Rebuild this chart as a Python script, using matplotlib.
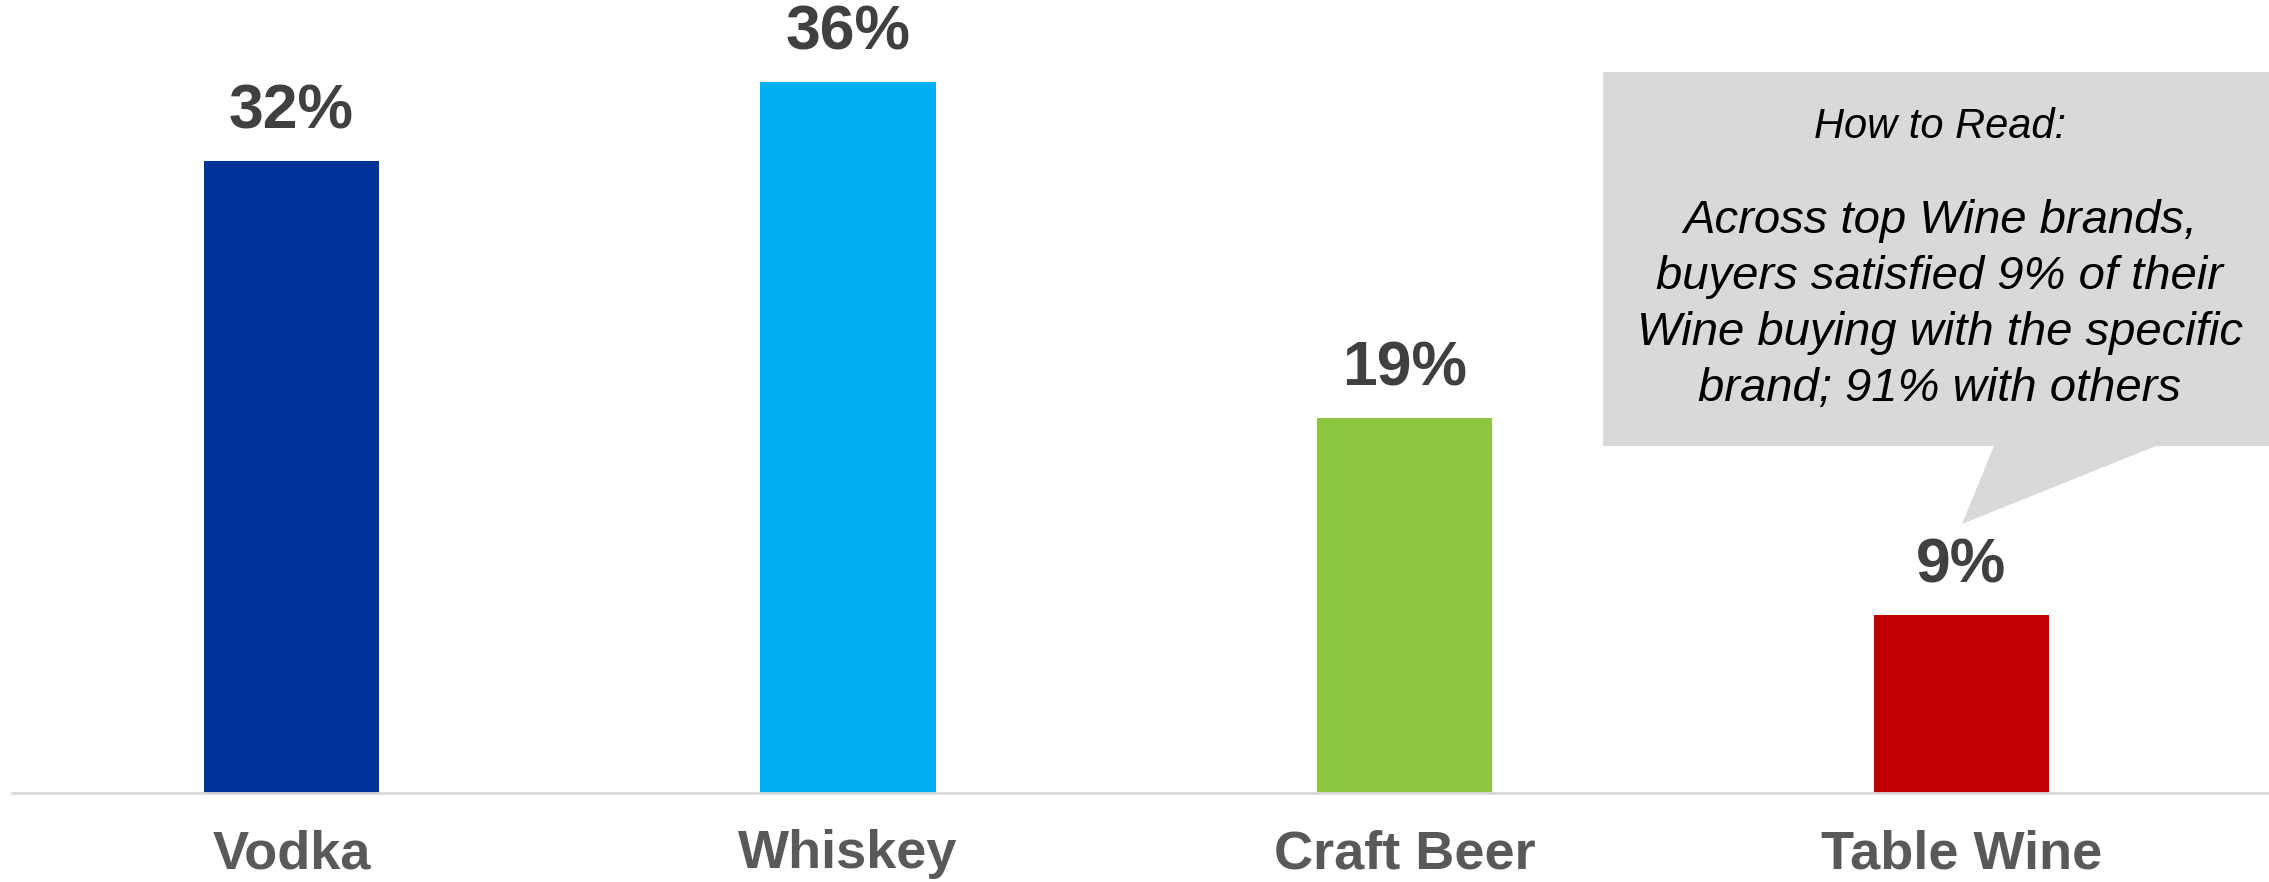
import numpy as np
import matplotlib
matplotlib.use("Agg")
import matplotlib.pyplot as plt
from matplotlib.patches import Polygon

plt.rcParams['font.family'] = ['Liberation Sans', 'DejaVu Sans']

# share of category buying satisfied by top brands
categories = ['Vodka', 'Whiskey', 'Craft Beer', 'Table Wine']
shares = [32, 36, 19, 9]
bar_colors = ['#003399', '#00b0f0', '#8dc63f', '#c00000']

note_title = 'How to Read:'
note_body = ('Across top Wine brands,\nbuyers satisfied 9% of their\n'
             'Wine buying with the specific\nbrand; 91% with others')

fig = plt.figure(figsize=(22.69, 8.82), dpi=100)
ax = fig.add_axes([12 / 2269, 89 / 882, 1 - 12 / 2269, 793 / 882])

x = np.arange(len(categories))
bars = ax.bar(x, shares, width=0.315, color=bar_colors, zorder=2)

for b, v in zip(bars, shares):
    ax.annotate(f'{v}%', (b.get_x() + b.get_width() / 2, v),
                xytext=(0, 14), textcoords='offset points',
                ha='center', va='bottom', fontsize=45, fontweight='bold',
                color='#404040')

ax.set_xlim(-0.502, 3.553)
ax.set_ylim(0, 40.13)
ax.set_xticks(x)
ax.set_xticklabels(categories, fontsize=39, fontweight='bold', color='#595959')
ax.tick_params(axis='x', length=0, pad=26)
ax.set_yticks([])
for side in ['top', 'left', 'right']:
    ax.spines[side].set_visible(False)
ax.spines['bottom'].set_color('#d9d9d9')
ax.spines['bottom'].set_linewidth(2)

# speech-bubble callout pointing down at the wine bar
bubble = [(0.7065, 0.9184), (1.01, 0.9184), (1.01, 0.4943),
          (0.9502, 0.4943), (0.8647, 0.4059), (0.8788, 0.4943),
          (0.7065, 0.4943)]
fig.patches.append(Polygon(bubble, closed=True, transform=fig.transFigure,
                           facecolor='#d9d9d9', edgecolor='none', zorder=0))
fig.text(0.855, 0.856, note_title, ha='center', va='center',
         fontsize=30, style='italic', color='black')
fig.text(0.855, 0.654, note_body, ha='center', va='center',
         fontsize=34, style='italic', color='black', linespacing=1.35)

fig.savefig('out.png', dpi=100)
